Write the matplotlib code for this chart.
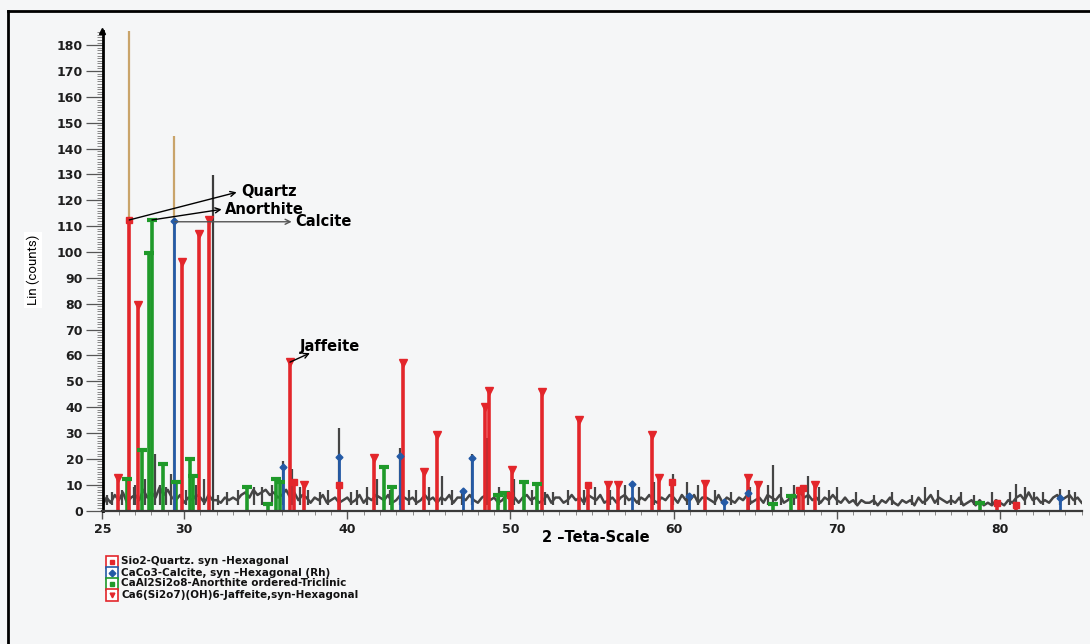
import numpy as np
import matplotlib
matplotlib.use("Agg")
import matplotlib.pyplot as plt
from matplotlib.lines import Line2D

# ------------------------------------------------------------------ data
quartz_pos = [26.64, 36.75, 39.50, 50.00, 54.76, 59.91, 67.66, 67.95, 79.80, 81.00]
quartz_int = [112.4, 11.0, 10.0, 6.0, 9.9, 10.9, 7.9, 8.6, 3.0, 2.0]

calcite_pos = [29.40, 36.08, 39.52, 43.23, 47.11, 47.62, 57.43, 60.96, 63.10, 64.53, 83.67]
calcite_int = [112.0, 16.7, 20.8, 21.2, 7.5, 20.2, 10.1, 5.7, 3.4, 6.9, 4.7]

anorthite_pos = [26.48, 27.40, 27.85, 28.01, 28.69, 29.48, 30.36, 30.53, 33.84, 35.16,
                 35.63, 35.87, 42.25, 42.72, 49.25, 49.66, 50.83, 51.60, 66.10, 67.19, 78.77]
anorthite_int = [12.0, 23.4, 99.5, 112.4, 18.0, 11.0, 20.0, 13.5, 9.0, 2.5,
                 12.0, 11.0, 16.8, 9.0, 6.0, 6.9, 11.1, 10.1, 2.5, 5.6, 3.0]

jaffeite_pos = [25.97, 27.19, 29.85, 30.91, 31.54, 36.49, 37.35, 41.64, 43.43, 44.70,
                45.52, 48.46, 48.68, 50.11, 51.95, 54.20, 55.95, 56.56, 58.68, 59.10,
                61.92, 64.53, 65.18, 68.63]
jaffeite_int = [12.7, 79.5, 96.0, 106.8, 112.4, 57.3, 10.0, 20.2, 57.0, 14.8,
                29.2, 40.2, 46.1, 15.7, 45.8, 35.0, 9.9, 9.9, 29.2, 12.7,
                10.1, 12.7, 9.9, 9.9]

# measured pattern: strong lines
strong_pos = [26.64, 29.40, 31.75]
strong_int = [186.0, 145.0, 129.8]
strong_col = ["#c9a46a", "#c9a46a", "#3c3c3c"]

# measured pattern: smaller spikes
spike_pos = [25.3, 25.6, 26.2, 26.9, 27.0, 27.6, 28.2, 28.5, 28.9, 29.2, 30.1, 30.7,
             31.2, 32.1, 32.6, 33.3, 34.3, 34.8, 35.4, 36.08, 36.6, 37.1, 37.6, 38.3,
             38.8, 39.52, 40.2, 40.6, 41.2, 41.8, 42.6, 43.25, 43.8, 44.2, 45.0, 45.8,
             46.4, 47.0, 47.62, 48.57, 49.3, 50.2, 50.8, 51.3, 52.1, 52.6, 53.5, 54.5,
             55.2, 56.1, 57.0, 57.9, 58.8, 59.95, 60.8, 61.5, 62.5, 63.5, 64.7, 65.8,
             66.1, 66.6, 67.4, 68.2, 68.9, 69.5, 70.0, 71.2, 72.3, 73.4, 74.6, 75.4,
             76.2, 77.0, 77.6, 78.4, 79.5, 80.6, 81.0, 81.5, 82.1, 82.6, 83.7, 84.2,
             84.6]
spike_int = [6, 7, 8, 9, 10, 12, 22, 10, 9, 14, 8, 10,
             12, 6, 7, 8, 9, 9, 10, 19, 16, 9, 8, 7,
             8, 32, 7, 8, 9, 12, 8, 24, 8, 8, 9, 13.5,
             8, 8, 22, 28, 9, 12, 8, 8, 7, 7, 8, 8,
             9, 8, 10, 9, 11, 14.1, 11, 10, 8, 7, 9, 10,
             17.6, 9, 10, 13.5, 9, 8, 9, 7, 6, 7, 6, 9,
             8, 6, 7, 6, 7, 7, 10.2, 9, 7, 7, 8.3, 8,
             7]

# measured pattern: background counts every 0.25 deg from 25 to 85
base_start, base_step = 25.0, 0.25
base_counts = [
    2, 5, 3, 6,   4, 7, 3, 5,   6, 4, 8, 5,   7, 5, 9, 6,   8, 5, 4, 6,    # 25-29
    3, 5, 4, 6,   5, 3, 6, 4,   4, 3, 5, 4,   5, 4, 6, 7,   5, 8, 6, 7,    # 30-34
    8, 6, 7, 5,   6, 8, 5, 7,   4, 6, 5, 3,   5, 4, 6, 3,   4, 5, 3, 4,    # 35-39
    5, 3, 4, 6,   3, 5, 4, 6,   5, 4, 6, 3,   4, 6, 5, 4,   5, 3, 4, 6,    # 40-44
    4, 5, 3, 5,   4, 6, 3, 5,   5, 4, 6, 4,   3, 5, 6, 4,   5, 3, 4, 6,    # 45-49
    4, 5, 3, 5,   6, 4, 5, 3,   4, 6, 3, 5,   5, 3, 4, 6,   4, 5, 3, 6,    # 50-54
    5, 4, 6, 3,   4, 5, 3, 5,   6, 4, 5, 3,   5, 4, 6, 4,   3, 5, 4, 6,    # 55-59
    5, 3, 6, 4,   4, 6, 3, 5,   5, 4, 3, 6,   3, 5, 4, 3,   5, 4, 6, 3,    # 60-64
    4, 5, 3, 6,   5, 4, 6, 3,   4, 6, 5, 7,   5, 6, 4, 5,   3, 5, 4, 6,    # 65-69
    4, 3, 5, 3,   4, 2, 4, 3,   3, 4, 2, 4,   3, 5, 3, 2,   4, 3, 4, 2,    # 70-74
    5, 3, 4, 6,   3, 5, 4, 3,   4, 3, 5, 2,   3, 4, 2, 4,   2, 3, 2, 4,    # 75-79
    3, 2, 4, 3,   5, 6, 4, 7,   4, 5, 3, 4,   3, 5, 6, 4,   5, 6, 4, 5,    # 80-84
    3]

x_ticks = [25, 30, 40, 50, 60, 70, 80]
y_ticks = list(range(0, 181, 10))

legend_labels = ["Sio2-Quartz. syn -Hexagonal",
                 "CaCo3-Calcite, syn \u2013Hexagonal (Rh)",
                 "CaAl2Si2o8-Anorthite ordered-Triclinic",
                 "Ca6(Si2o7)(OH)6-Jaffeite,syn-Hexagonal"]

# ------------------------------------------------------------------ style
RED = "#e3262b"
BLUE = "#245aa6"
GREEN = "#1f9a2a"
GRAY = "#454545"

W, H = 1090, 644
fig = plt.figure(figsize=(W / 100, H / 100), dpi=100)
fig.patch.set_facecolor("#f5f6f7")

ax = fig.add_axes([102.5 / W, (H - 510.5) / H, 979.2 / W, 479.5 / H])
ax.set_facecolor("none")
ax.set_xlim(25, 85)
ax.set_ylim(0, 185.5)

# measured background
bx = base_start + base_step * np.arange(len(base_counts))
ax.plot(bx, base_counts, color=GRAY, lw=1.8, zorder=2)
ax.vlines(spike_pos, 2, spike_int, color=GRAY, lw=1.6, zorder=2)
ax.vlines(strong_pos, 0, strong_int, colors=strong_col, lw=1.6, zorder=2.5)

# reference sticks
ax.vlines(anorthite_pos, 0, anorthite_int, color=GREEN, lw=2.6, zorder=3)
ax.plot(anorthite_pos, anorthite_int, ls="", marker="_", ms=7, mew=3, color=GREEN, zorder=4)

ax.vlines(calcite_pos, 0, calcite_int, color=BLUE, lw=2.0, zorder=3)
ax.plot(calcite_pos, calcite_int, ls="", marker="D", ms=3.5, color=BLUE, zorder=4)

ax.vlines(jaffeite_pos, 0, jaffeite_int, color=RED, lw=2.6, zorder=3.2)
ax.plot(jaffeite_pos, jaffeite_int, ls="", marker="v", ms=6, color=RED, zorder=4)

ax.vlines(quartz_pos, 0, quartz_int, color=RED, lw=2.6, zorder=3.2)
ax.plot(quartz_pos, quartz_int, ls="", marker="s", ms=5, color=RED, zorder=4)

# annotations
arrow_kw = dict(arrowstyle="->", lw=1.0, color="black", shrinkA=0, shrinkB=0,
                mutation_scale=9)
ax.annotate("", xy=(33.22, 123.1), xytext=(26.64, 112.4), arrowprops=arrow_kw, zorder=6)
ax.text(33.5, 123.3, "Quartz", fontsize=10.5, fontweight="bold", va="center", ha="left")
ax.annotate("", xy=(32.30, 116.5), xytext=(28.03, 112.4), arrowprops=arrow_kw, zorder=6)
ax.text(32.5, 116.3, "Anorthite", fontsize=10.5, fontweight="bold", va="center", ha="left")
arrow_kw2 = dict(arrow_kw, color="#555555")
ax.annotate("", xy=(36.59, 111.7), xytext=(29.44, 111.7), arrowprops=arrow_kw2, zorder=6)
ax.text(36.8, 111.7, "Calcite", fontsize=10.5, fontweight="bold", va="center", ha="left")
ax.annotate("", xy=(37.71, 60.9), xytext=(36.49, 57.4), arrowprops=arrow_kw, zorder=6)
ax.text(37.1, 63.4, "Jaffeite", fontsize=10.5, fontweight="bold", va="center", ha="left")

# axes styling
for s in ("top", "right"):
    ax.spines[s].set_visible(False)
ax.spines["left"].set_color("black")
ax.spines["left"].set_linewidth(2.0)
ax.spines["bottom"].set_color("#3a3a3a")
ax.spines["bottom"].set_linewidth(1.6)
ax.spines["left"].set_zorder(5)
ax.spines["bottom"].set_zorder(5)

ax.set_yticks(y_ticks)
ax.set_yticks(np.arange(0, 186, 1), minor=True)
ax.set_xticks(x_ticks)
ax.set_xticks(np.arange(25, 86, 1), minor=True)
ax.tick_params(axis="y", which="major", length=12, width=0.9, color="#555555", pad=2,
               labelsize=9)
ax.tick_params(axis="y", which="minor", length=4, width=0.6, color="#777777")
ax.tick_params(axis="x", which="major", length=6, width=1.0, color="#555555", pad=3,
               labelsize=9)
ax.tick_params(axis="x", which="minor", length=3, width=0.7, color="#888888")
for lab in ax.get_xticklabels() + ax.get_yticklabels():
    lab.set_fontweight("bold")
    lab.set_color("#1e1e1e")

# y-axis arrowhead
ax.plot([25], [185.5], marker="^", ms=5, color="black", clip_on=False, zorder=6)

# axis labels
fig.text(596 / W, 1 - 538 / H, "2 \u2013Teta-Scale", fontsize=10.5, fontweight="bold",
         ha="center", va="center")
fig.text(33 / W, 1 - 270 / H, "Lin (counts)", rotation=90, fontsize=9.5,
         family=["Liberation Sans Narrow", "Roboto", "DejaVu Sans"],
         ha="center", va="center",
         bbox=dict(facecolor="white", edgecolor="none", pad=2))

# legend (manual)
leg_colors = [RED, BLUE, GREEN, RED]
leg_inner = ["s", "D", "s", "v"]
leg_rows = [561.5, 572.5, 583.5, 594.5]
for lab, col, mk, yy in zip(legend_labels, leg_colors, leg_inner, leg_rows):
    yf = 1 - yy / H
    fig.add_artist(Line2D([112 / W], [yf], marker="s", ms=8, mfc="white", mec=col,
                          mew=1.2, ls="", transform=fig.transFigure))
    fig.add_artist(Line2D([112 / W], [yf], marker=mk, ms=3.4, color=col, ls="",
                          transform=fig.transFigure))
    fig.text(121 / W, yf, lab, fontsize=7.5, fontweight="bold", va="center", ha="left",
             color="#111111")

# scan frame
fx, fy = 8 / W, 1 - 11 / H
fig.add_artist(Line2D([fx, fx], [0, fy], color="black", lw=2, transform=fig.transFigure))
fig.add_artist(Line2D([fx, 1], [fy, fy], color="black", lw=2, transform=fig.transFigure))

fig.savefig("out.png", dpi=100, facecolor=fig.get_facecolor())
